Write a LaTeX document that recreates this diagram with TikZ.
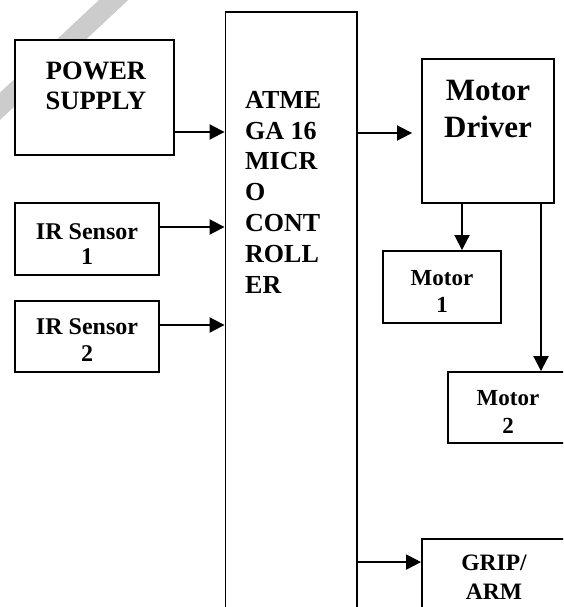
\documentclass[tikz,border=0pt]{standalone}
\usepackage{fontspec}
\setmainfont{Liberation Serif}
\usepackage{tikz}
\usetikzlibrary{positioning,arrows.meta}

\begin{document}
\begin{tikzpicture}[x=1pt, y=-1pt, >={Triangle[length=15pt,width=15pt]},
    blk/.style={draw, fill=white, line width=1.9pt, inner sep=0pt},
    lbl/.style={inner sep=0pt, align=center, anchor=north},
    fs/.style 2 args={font=\bfseries\fontsize{#1}{#2}\selectfont},
    link/.style={->, line width=2pt}]
  \clip (0,0) rectangle (563,607);
  % faint stroke behind the supply box
  \draw[gray!40, line width=20pt] (135,-20) -- (-20,125);
  % blocks
  \node[blk, minimum width=159pt, minimum height=115pt] (ps) at (94.5,97.5) {};
  \node[blk, minimum width=144pt, minimum height=72pt] (ir1) at (87,239) {};
  \node[blk, minimum width=144pt, minimum height=71pt] (ir2) at (87,336.5) {};
  \node[blk, minimum width=131.5pt, minimum height=628pt] (mcu) at (291.25,326) {};
  \node[blk, minimum width=132pt, minimum height=144pt] (md) at (488,131) {};
  \node[blk, minimum width=118pt, minimum height=72pt] (m1) at (442,287) {};
  \node[blk, minimum width=122pt, minimum height=71pt] (m2) at (509,407.5) {};
  \node[blk, minimum width=146pt, minimum height=101pt] (grip) at (495,589.5) {};
  % texts
  \node[lbl, fs={26.5}{30}] (pstext) at (96,62) {POWER\\SUPPLY};
  \node[lbl, fs={24}{25}] (ir1text) at (87,223) {IR Sensor\\1};
  \node[lbl, fs={24}{27}] (ir2text) at (87,318) {IR Sensor\\2};
  \node[lbl, fs={26}{30.8}, align=left, anchor=north west] (mcutext) at (245,91)
    {ATME\\GA 16\\MICR\\O\\CONT\\ROLL\\ER};
  \node[lbl, fs={31}{37.5}] (mdtext) at (488,80) {Motor\\Driver};
  \node[lbl, fs={23}{27}] (m1text) at (442,270) {Motor\\1};
  \node[lbl, fs={23}{28}] (m2text) at (508,390) {Motor\\2};
  \node[lbl, fs={23.5}{29}] (griptext) at (494,555) {GRIP/\\ARM};
  % connectors
  \coordinate (psout) at ([yshift=-34.5pt]ps.east);
  \coordinate (ir1out) at ([yshift=12pt]ir1.east);
  \coordinate (ir2out) at ([yshift=11.5pt]ir2.east);
  \coordinate (mdin) at ([yshift=-2pt]md.west);
  \coordinate (m1in) at ([xshift=-26pt]md.south);
  \coordinate (m2in) at ([xshift=53pt]md.south);
  \coordinate (gripin) at ([yshift=-24pt]grip.north west);
  \draw[link] (psout) -- (psout -| mcu.west);
  \draw[link] (ir1out) -- (ir1out -| mcu.west);
  \draw[link] (ir2out) -- (ir2out -| mcu.west);
  \draw[link, shorten >=9pt] (mdin -| mcu.east) -- (mdin);
  \draw[link] (m1in) -- (m1in |- m1.north);
  \draw[link] (m2in) -- (m2in |- m2.north);
  \draw[link] (gripin -| mcu.east) -- (gripin);
\end{tikzpicture}
\end{document}
